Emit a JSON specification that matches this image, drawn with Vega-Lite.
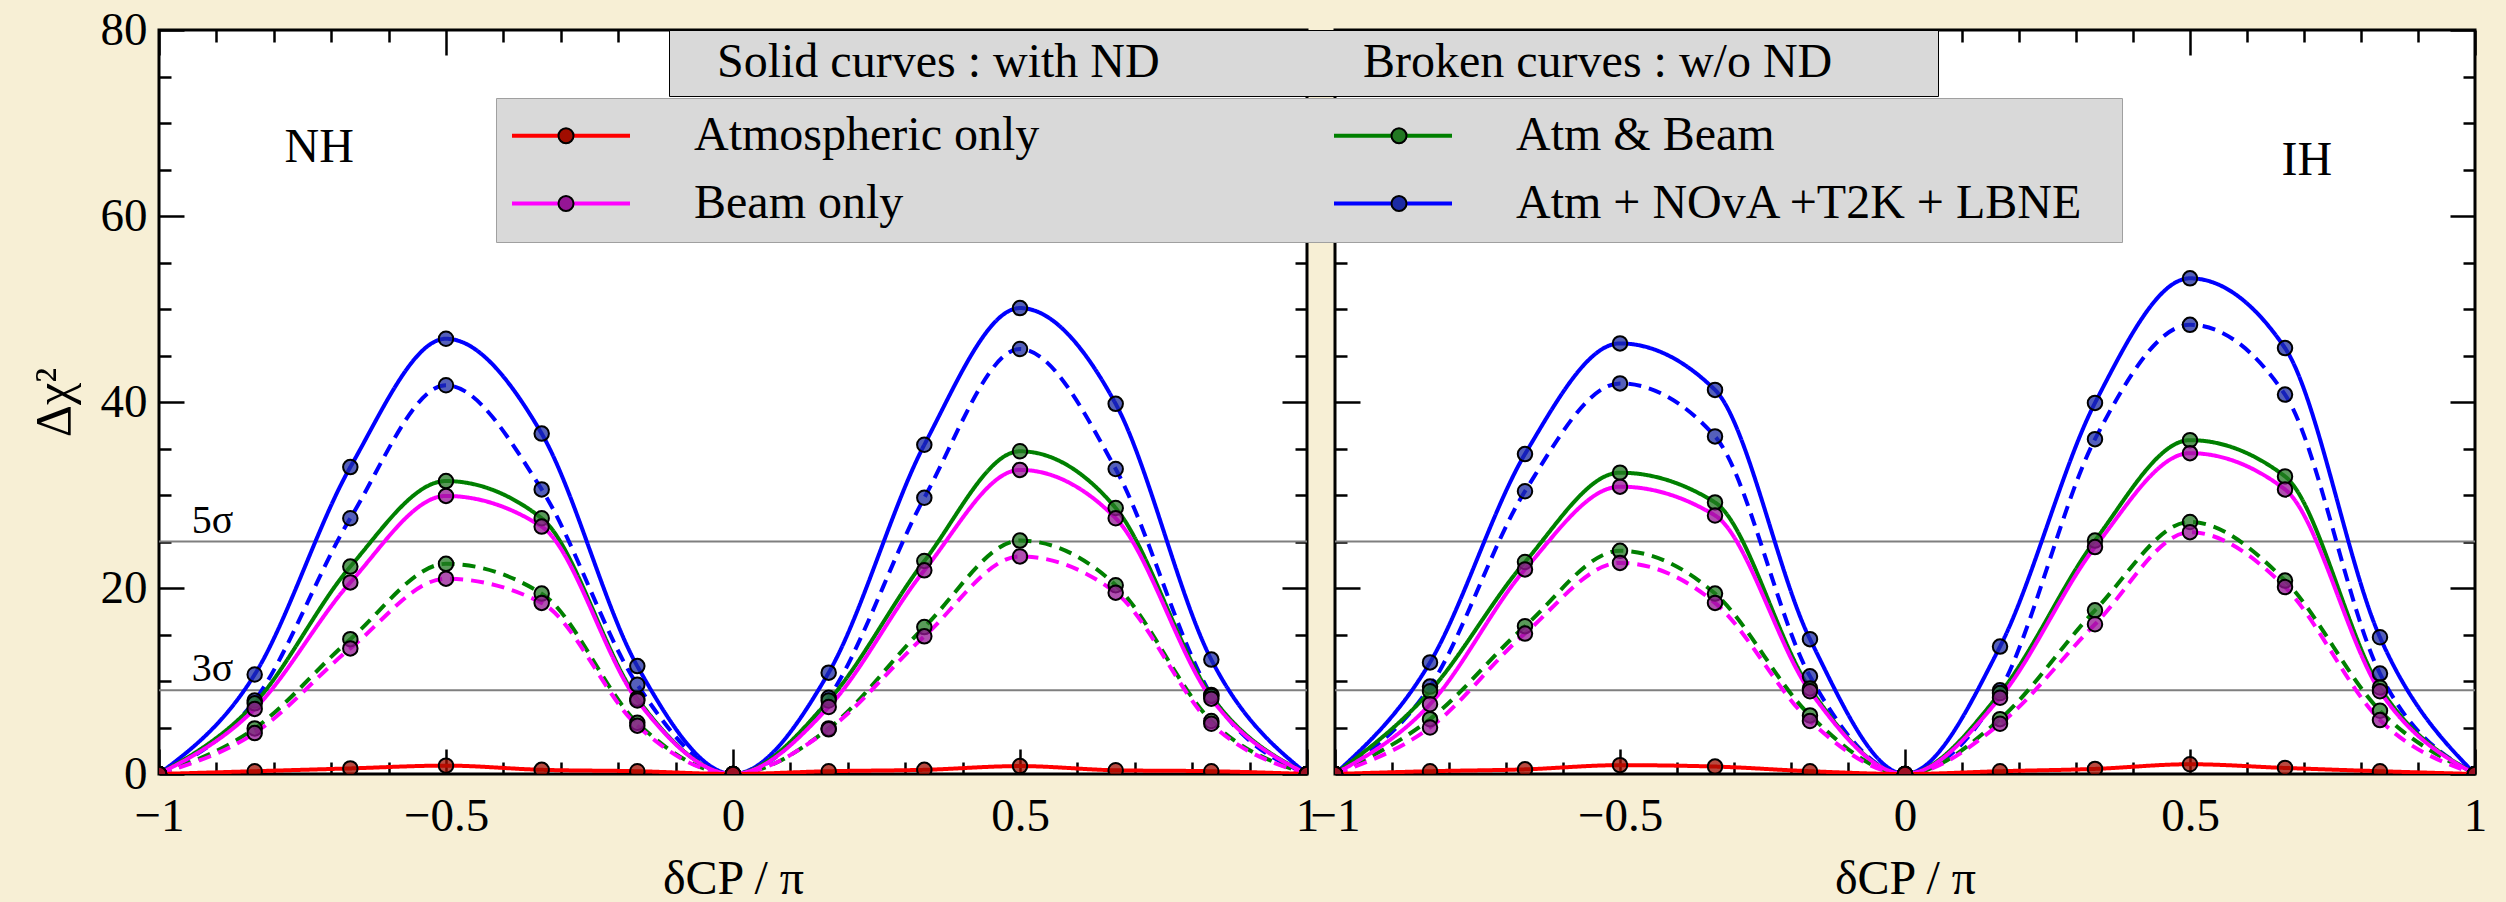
{
"$schema": "https://vega.github.io/schema/vega-lite/v6.json",
"background": "#f7efd5",
"padding": {"left": 27, "top": 4, "right": 20, "bottom": 0},
"bounds": "flush",
"spacing": 28,
"datasets": {
"sigma": [{"level": 25, "label": "5σ"}, {"level": 9, "label": "3σ"}],
"curves": [
{"panel":"NH","nd":"w/o ND","series":"Atm + NOvA +T2K + LBNE","x":-1,"chi2":0},
{"panel":"NH","nd":"w/o ND","series":"Atm + NOvA +T2K + LBNE","x":-0.8333,"chi2":7.9},
{"panel":"NH","nd":"w/o ND","series":"Atm + NOvA +T2K + LBNE","x":-0.6667,"chi2":27.5},
{"panel":"NH","nd":"w/o ND","series":"Atm + NOvA +T2K + LBNE","x":-0.5,"chi2":41.8},
{"panel":"NH","nd":"w/o ND","series":"Atm + NOvA +T2K + LBNE","x":-0.3333,"chi2":30.6},
{"panel":"NH","nd":"w/o ND","series":"Atm + NOvA +T2K + LBNE","x":-0.1667,"chi2":9.6},
{"panel":"NH","nd":"w/o ND","series":"Atm + NOvA +T2K + LBNE","x":0,"chi2":0},
{"panel":"NH","nd":"w/o ND","series":"Atm + NOvA +T2K + LBNE","x":0.1667,"chi2":8.2},
{"panel":"NH","nd":"w/o ND","series":"Atm + NOvA +T2K + LBNE","x":0.3333,"chi2":29.7},
{"panel":"NH","nd":"w/o ND","series":"Atm + NOvA +T2K + LBNE","x":0.5,"chi2":45.7},
{"panel":"NH","nd":"w/o ND","series":"Atm + NOvA +T2K + LBNE","x":0.6667,"chi2":32.8},
{"panel":"NH","nd":"w/o ND","series":"Atm + NOvA +T2K + LBNE","x":0.8333,"chi2":8.5},
{"panel":"NH","nd":"w/o ND","series":"Atm + NOvA +T2K + LBNE","x":1,"chi2":0},
{"panel":"NH","nd":"with ND","series":"Atm + NOvA +T2K + LBNE","x":-1,"chi2":0},
{"panel":"NH","nd":"with ND","series":"Atm + NOvA +T2K + LBNE","x":-0.8333,"chi2":10.7},
{"panel":"NH","nd":"with ND","series":"Atm + NOvA +T2K + LBNE","x":-0.6667,"chi2":33.0},
{"panel":"NH","nd":"with ND","series":"Atm + NOvA +T2K + LBNE","x":-0.5,"chi2":46.8},
{"panel":"NH","nd":"with ND","series":"Atm + NOvA +T2K + LBNE","x":-0.3333,"chi2":36.6},
{"panel":"NH","nd":"with ND","series":"Atm + NOvA +T2K + LBNE","x":-0.1667,"chi2":11.6},
{"panel":"NH","nd":"with ND","series":"Atm + NOvA +T2K + LBNE","x":0,"chi2":0},
{"panel":"NH","nd":"with ND","series":"Atm + NOvA +T2K + LBNE","x":0.1667,"chi2":10.9},
{"panel":"NH","nd":"with ND","series":"Atm + NOvA +T2K + LBNE","x":0.3333,"chi2":35.4},
{"panel":"NH","nd":"with ND","series":"Atm + NOvA +T2K + LBNE","x":0.5,"chi2":50.1},
{"panel":"NH","nd":"with ND","series":"Atm + NOvA +T2K + LBNE","x":0.6667,"chi2":39.8},
{"panel":"NH","nd":"with ND","series":"Atm + NOvA +T2K + LBNE","x":0.8333,"chi2":12.3},
{"panel":"NH","nd":"with ND","series":"Atm + NOvA +T2K + LBNE","x":1,"chi2":0},
{"panel":"NH","nd":"w/o ND","series":"Atm & Beam","x":-1,"chi2":0},
{"panel":"NH","nd":"w/o ND","series":"Atm & Beam","x":-0.8333,"chi2":4.9},
{"panel":"NH","nd":"w/o ND","series":"Atm & Beam","x":-0.6667,"chi2":14.5},
{"panel":"NH","nd":"w/o ND","series":"Atm & Beam","x":-0.5,"chi2":22.6},
{"panel":"NH","nd":"w/o ND","series":"Atm & Beam","x":-0.3333,"chi2":19.4},
{"panel":"NH","nd":"w/o ND","series":"Atm & Beam","x":-0.1667,"chi2":5.5},
{"panel":"NH","nd":"w/o ND","series":"Atm & Beam","x":0,"chi2":0},
{"panel":"NH","nd":"w/o ND","series":"Atm & Beam","x":0.1667,"chi2":4.9},
{"panel":"NH","nd":"w/o ND","series":"Atm & Beam","x":0.3333,"chi2":15.8},
{"panel":"NH","nd":"w/o ND","series":"Atm & Beam","x":0.5,"chi2":25.1},
{"panel":"NH","nd":"w/o ND","series":"Atm & Beam","x":0.6667,"chi2":20.3},
{"panel":"NH","nd":"w/o ND","series":"Atm & Beam","x":0.8333,"chi2":5.7},
{"panel":"NH","nd":"w/o ND","series":"Atm & Beam","x":1,"chi2":0},
{"panel":"NH","nd":"with ND","series":"Atm & Beam","x":-1,"chi2":0},
{"panel":"NH","nd":"with ND","series":"Atm & Beam","x":-0.8333,"chi2":7.6},
{"panel":"NH","nd":"with ND","series":"Atm & Beam","x":-0.6667,"chi2":22.3},
{"panel":"NH","nd":"with ND","series":"Atm & Beam","x":-0.5,"chi2":31.5},
{"panel":"NH","nd":"with ND","series":"Atm & Beam","x":-0.3333,"chi2":27.5},
{"panel":"NH","nd":"with ND","series":"Atm & Beam","x":-0.1667,"chi2":8.1},
{"panel":"NH","nd":"with ND","series":"Atm & Beam","x":0,"chi2":0},
{"panel":"NH","nd":"with ND","series":"Atm & Beam","x":0.1667,"chi2":7.9},
{"panel":"NH","nd":"with ND","series":"Atm & Beam","x":0.3333,"chi2":22.9},
{"panel":"NH","nd":"with ND","series":"Atm & Beam","x":0.5,"chi2":34.7},
{"panel":"NH","nd":"with ND","series":"Atm & Beam","x":0.6667,"chi2":28.6},
{"panel":"NH","nd":"with ND","series":"Atm & Beam","x":0.8333,"chi2":8.4},
{"panel":"NH","nd":"with ND","series":"Atm & Beam","x":1,"chi2":0},
{"panel":"NH","nd":"w/o ND","series":"Beam only","x":-1,"chi2":0},
{"panel":"NH","nd":"w/o ND","series":"Beam only","x":-0.8333,"chi2":4.4},
{"panel":"NH","nd":"w/o ND","series":"Beam only","x":-0.6667,"chi2":13.5},
{"panel":"NH","nd":"w/o ND","series":"Beam only","x":-0.5,"chi2":21.0},
{"panel":"NH","nd":"w/o ND","series":"Beam only","x":-0.3333,"chi2":18.4},
{"panel":"NH","nd":"w/o ND","series":"Beam only","x":-0.1667,"chi2":5.2},
{"panel":"NH","nd":"w/o ND","series":"Beam only","x":0,"chi2":0},
{"panel":"NH","nd":"w/o ND","series":"Beam only","x":0.1667,"chi2":4.8},
{"panel":"NH","nd":"w/o ND","series":"Beam only","x":0.3333,"chi2":14.8},
{"panel":"NH","nd":"w/o ND","series":"Beam only","x":0.5,"chi2":23.4},
{"panel":"NH","nd":"w/o ND","series":"Beam only","x":0.6667,"chi2":19.5},
{"panel":"NH","nd":"w/o ND","series":"Beam only","x":0.8333,"chi2":5.4},
{"panel":"NH","nd":"w/o ND","series":"Beam only","x":1,"chi2":0},
{"panel":"NH","nd":"with ND","series":"Beam only","x":-1,"chi2":0},
{"panel":"NH","nd":"with ND","series":"Beam only","x":-0.8333,"chi2":7.0},
{"panel":"NH","nd":"with ND","series":"Beam only","x":-0.6667,"chi2":20.6},
{"panel":"NH","nd":"with ND","series":"Beam only","x":-0.5,"chi2":29.9},
{"panel":"NH","nd":"with ND","series":"Beam only","x":-0.3333,"chi2":26.6},
{"panel":"NH","nd":"with ND","series":"Beam only","x":-0.1667,"chi2":7.9},
{"panel":"NH","nd":"with ND","series":"Beam only","x":0,"chi2":0},
{"panel":"NH","nd":"with ND","series":"Beam only","x":0.1667,"chi2":7.2},
{"panel":"NH","nd":"with ND","series":"Beam only","x":0.3333,"chi2":21.9},
{"panel":"NH","nd":"with ND","series":"Beam only","x":0.5,"chi2":32.7},
{"panel":"NH","nd":"with ND","series":"Beam only","x":0.6667,"chi2":27.5},
{"panel":"NH","nd":"with ND","series":"Beam only","x":0.8333,"chi2":8.1},
{"panel":"NH","nd":"with ND","series":"Beam only","x":1,"chi2":0},
{"panel":"NH","nd":"with ND","series":"Atmospheric only","x":-1,"chi2":0},
{"panel":"NH","nd":"with ND","series":"Atmospheric only","x":-0.8333,"chi2":0.3},
{"panel":"NH","nd":"with ND","series":"Atmospheric only","x":-0.6667,"chi2":0.6},
{"panel":"NH","nd":"with ND","series":"Atmospheric only","x":-0.5,"chi2":0.9},
{"panel":"NH","nd":"with ND","series":"Atmospheric only","x":-0.3333,"chi2":0.45},
{"panel":"NH","nd":"with ND","series":"Atmospheric only","x":-0.1667,"chi2":0.3},
{"panel":"NH","nd":"with ND","series":"Atmospheric only","x":0,"chi2":0},
{"panel":"NH","nd":"with ND","series":"Atmospheric only","x":0.1667,"chi2":0.3},
{"panel":"NH","nd":"with ND","series":"Atmospheric only","x":0.3333,"chi2":0.45},
{"panel":"NH","nd":"with ND","series":"Atmospheric only","x":0.5,"chi2":0.85},
{"panel":"NH","nd":"with ND","series":"Atmospheric only","x":0.6667,"chi2":0.4},
{"panel":"NH","nd":"with ND","series":"Atmospheric only","x":0.8333,"chi2":0.3},
{"panel":"NH","nd":"with ND","series":"Atmospheric only","x":1,"chi2":0},
{"panel":"IH","nd":"w/o ND","series":"Atm + NOvA +T2K + LBNE","x":-1,"chi2":0},
{"panel":"IH","nd":"w/o ND","series":"Atm + NOvA +T2K + LBNE","x":-0.8333,"chi2":9.4},
{"panel":"IH","nd":"w/o ND","series":"Atm + NOvA +T2K + LBNE","x":-0.6667,"chi2":30.4},
{"panel":"IH","nd":"w/o ND","series":"Atm + NOvA +T2K + LBNE","x":-0.5,"chi2":42.0},
{"panel":"IH","nd":"w/o ND","series":"Atm + NOvA +T2K + LBNE","x":-0.3333,"chi2":36.3},
{"panel":"IH","nd":"w/o ND","series":"Atm + NOvA +T2K + LBNE","x":-0.1667,"chi2":10.5},
{"panel":"IH","nd":"w/o ND","series":"Atm + NOvA +T2K + LBNE","x":0,"chi2":0},
{"panel":"IH","nd":"w/o ND","series":"Atm + NOvA +T2K + LBNE","x":0.1667,"chi2":9.0},
{"panel":"IH","nd":"w/o ND","series":"Atm + NOvA +T2K + LBNE","x":0.3333,"chi2":36.0},
{"panel":"IH","nd":"w/o ND","series":"Atm + NOvA +T2K + LBNE","x":0.5,"chi2":48.3},
{"panel":"IH","nd":"w/o ND","series":"Atm + NOvA +T2K + LBNE","x":0.6667,"chi2":40.8},
{"panel":"IH","nd":"w/o ND","series":"Atm + NOvA +T2K + LBNE","x":0.8333,"chi2":10.8},
{"panel":"IH","nd":"w/o ND","series":"Atm + NOvA +T2K + LBNE","x":1,"chi2":0},
{"panel":"IH","nd":"with ND","series":"Atm + NOvA +T2K + LBNE","x":-1,"chi2":0},
{"panel":"IH","nd":"with ND","series":"Atm + NOvA +T2K + LBNE","x":-0.8333,"chi2":12.0},
{"panel":"IH","nd":"with ND","series":"Atm + NOvA +T2K + LBNE","x":-0.6667,"chi2":34.4},
{"panel":"IH","nd":"with ND","series":"Atm + NOvA +T2K + LBNE","x":-0.5,"chi2":46.3},
{"panel":"IH","nd":"with ND","series":"Atm + NOvA +T2K + LBNE","x":-0.3333,"chi2":41.3},
{"panel":"IH","nd":"with ND","series":"Atm + NOvA +T2K + LBNE","x":-0.1667,"chi2":14.5},
{"panel":"IH","nd":"with ND","series":"Atm + NOvA +T2K + LBNE","x":0,"chi2":0},
{"panel":"IH","nd":"with ND","series":"Atm + NOvA +T2K + LBNE","x":0.1667,"chi2":13.7},
{"panel":"IH","nd":"with ND","series":"Atm + NOvA +T2K + LBNE","x":0.3333,"chi2":39.9},
{"panel":"IH","nd":"with ND","series":"Atm + NOvA +T2K + LBNE","x":0.5,"chi2":53.3},
{"panel":"IH","nd":"with ND","series":"Atm + NOvA +T2K + LBNE","x":0.6667,"chi2":45.8},
{"panel":"IH","nd":"with ND","series":"Atm + NOvA +T2K + LBNE","x":0.8333,"chi2":14.7},
{"panel":"IH","nd":"with ND","series":"Atm + NOvA +T2K + LBNE","x":1,"chi2":0},
{"panel":"IH","nd":"w/o ND","series":"Atm & Beam","x":-1,"chi2":0},
{"panel":"IH","nd":"w/o ND","series":"Atm & Beam","x":-0.8333,"chi2":5.9},
{"panel":"IH","nd":"w/o ND","series":"Atm & Beam","x":-0.6667,"chi2":15.9},
{"panel":"IH","nd":"w/o ND","series":"Atm & Beam","x":-0.5,"chi2":24.0},
{"panel":"IH","nd":"w/o ND","series":"Atm & Beam","x":-0.3333,"chi2":19.4},
{"panel":"IH","nd":"w/o ND","series":"Atm & Beam","x":-0.1667,"chi2":6.3},
{"panel":"IH","nd":"w/o ND","series":"Atm & Beam","x":0,"chi2":0},
{"panel":"IH","nd":"w/o ND","series":"Atm & Beam","x":0.1667,"chi2":5.9},
{"panel":"IH","nd":"w/o ND","series":"Atm & Beam","x":0.3333,"chi2":17.6},
{"panel":"IH","nd":"w/o ND","series":"Atm & Beam","x":0.5,"chi2":27.1},
{"panel":"IH","nd":"w/o ND","series":"Atm & Beam","x":0.6667,"chi2":20.8},
{"panel":"IH","nd":"w/o ND","series":"Atm & Beam","x":0.8333,"chi2":6.8},
{"panel":"IH","nd":"w/o ND","series":"Atm & Beam","x":1,"chi2":0},
{"panel":"IH","nd":"with ND","series":"Atm & Beam","x":-1,"chi2":0},
{"panel":"IH","nd":"with ND","series":"Atm & Beam","x":-0.8333,"chi2":8.9},
{"panel":"IH","nd":"with ND","series":"Atm & Beam","x":-0.6667,"chi2":22.8},
{"panel":"IH","nd":"with ND","series":"Atm & Beam","x":-0.5,"chi2":32.4},
{"panel":"IH","nd":"with ND","series":"Atm & Beam","x":-0.3333,"chi2":29.2},
{"panel":"IH","nd":"with ND","series":"Atm & Beam","x":-0.1667,"chi2":9.2},
{"panel":"IH","nd":"with ND","series":"Atm & Beam","x":0,"chi2":0},
{"panel":"IH","nd":"with ND","series":"Atm & Beam","x":0.1667,"chi2":8.7},
{"panel":"IH","nd":"with ND","series":"Atm & Beam","x":0.3333,"chi2":25.1},
{"panel":"IH","nd":"with ND","series":"Atm & Beam","x":0.5,"chi2":35.9},
{"panel":"IH","nd":"with ND","series":"Atm & Beam","x":0.6667,"chi2":32.0},
{"panel":"IH","nd":"with ND","series":"Atm & Beam","x":0.8333,"chi2":9.3},
{"panel":"IH","nd":"with ND","series":"Atm & Beam","x":1,"chi2":0},
{"panel":"IH","nd":"w/o ND","series":"Beam only","x":-1,"chi2":0},
{"panel":"IH","nd":"w/o ND","series":"Beam only","x":-0.8333,"chi2":5.0},
{"panel":"IH","nd":"w/o ND","series":"Beam only","x":-0.6667,"chi2":15.1},
{"panel":"IH","nd":"w/o ND","series":"Beam only","x":-0.5,"chi2":22.7},
{"panel":"IH","nd":"w/o ND","series":"Beam only","x":-0.3333,"chi2":18.4},
{"panel":"IH","nd":"w/o ND","series":"Beam only","x":-0.1667,"chi2":5.7},
{"panel":"IH","nd":"w/o ND","series":"Beam only","x":0,"chi2":0},
{"panel":"IH","nd":"w/o ND","series":"Beam only","x":0.1667,"chi2":5.4},
{"panel":"IH","nd":"w/o ND","series":"Beam only","x":0.3333,"chi2":16.1},
{"panel":"IH","nd":"w/o ND","series":"Beam only","x":0.5,"chi2":26.0},
{"panel":"IH","nd":"w/o ND","series":"Beam only","x":0.6667,"chi2":20.1},
{"panel":"IH","nd":"w/o ND","series":"Beam only","x":0.8333,"chi2":5.8},
{"panel":"IH","nd":"w/o ND","series":"Beam only","x":1,"chi2":0},
{"panel":"IH","nd":"with ND","series":"Beam only","x":-1,"chi2":0},
{"panel":"IH","nd":"with ND","series":"Beam only","x":-0.8333,"chi2":7.5},
{"panel":"IH","nd":"with ND","series":"Beam only","x":-0.6667,"chi2":22.0},
{"panel":"IH","nd":"with ND","series":"Beam only","x":-0.5,"chi2":30.9},
{"panel":"IH","nd":"with ND","series":"Beam only","x":-0.3333,"chi2":27.8},
{"panel":"IH","nd":"with ND","series":"Beam only","x":-0.1667,"chi2":8.9},
{"panel":"IH","nd":"with ND","series":"Beam only","x":0,"chi2":0},
{"panel":"IH","nd":"with ND","series":"Beam only","x":0.1667,"chi2":8.2},
{"panel":"IH","nd":"with ND","series":"Beam only","x":0.3333,"chi2":24.4},
{"panel":"IH","nd":"with ND","series":"Beam only","x":0.5,"chi2":34.5},
{"panel":"IH","nd":"with ND","series":"Beam only","x":0.6667,"chi2":30.6},
{"panel":"IH","nd":"with ND","series":"Beam only","x":0.8333,"chi2":8.9},
{"panel":"IH","nd":"with ND","series":"Beam only","x":1,"chi2":0},
{"panel":"IH","nd":"with ND","series":"Atmospheric only","x":-1,"chi2":0},
{"panel":"IH","nd":"with ND","series":"Atmospheric only","x":-0.8333,"chi2":0.3},
{"panel":"IH","nd":"with ND","series":"Atmospheric only","x":-0.6667,"chi2":0.5},
{"panel":"IH","nd":"with ND","series":"Atmospheric only","x":-0.5,"chi2":0.95},
{"panel":"IH","nd":"with ND","series":"Atmospheric only","x":-0.3333,"chi2":0.8},
{"panel":"IH","nd":"with ND","series":"Atmospheric only","x":-0.1667,"chi2":0.3},
{"panel":"IH","nd":"with ND","series":"Atmospheric only","x":0,"chi2":0},
{"panel":"IH","nd":"with ND","series":"Atmospheric only","x":0.1667,"chi2":0.3},
{"panel":"IH","nd":"with ND","series":"Atmospheric only","x":0.3333,"chi2":0.55},
{"panel":"IH","nd":"with ND","series":"Atmospheric only","x":0.5,"chi2":1.05},
{"panel":"IH","nd":"with ND","series":"Atmospheric only","x":0.6667,"chi2":0.65},
{"panel":"IH","nd":"with ND","series":"Atmospheric only","x":0.8333,"chi2":0.3},
{"panel":"IH","nd":"with ND","series":"Atmospheric only","x":1,"chi2":0}
]
},
"hconcat": [
{
"width": 1148, "height": 744,
"layer": [
{"data": {"name": "sigma"}, "mark": {"type": "rule", "color": "#7f7f7f", "strokeWidth": 2},
 "encoding": {"y": {"field": "level", "type": "quantitative", "scale": {"domain": [0, 80], "nice": false}, "axis": null}}},
{"data": {"name": "curves"}, "transform": [{"filter": "datum.panel === 'NH'"}],
 "mark": {"type": "line", "interpolate": "monotone", "strokeWidth": 4, "clip": true},
 "encoding": {
  "x": {"field": "x", "type": "quantitative", "scale": {"domain": [-1, 1], "nice": false, "zero": false},
   "axis": {"orient": "bottom", "values": [-1,-0.9,-0.8,-0.7,-0.6,-0.5,-0.4,-0.3,-0.2,-0.1,0,0.1,0.2,0.3,0.4,0.5,0.6,0.7,0.8,0.9,1], "format": "~g",
    "tickSize": {"condition": {"test": "abs(datum.value * 2 - round(datum.value * 2)) < 0.001", "value": -25}, "value": -12},
    "labelExpr": "abs(datum.value * 2 - round(datum.value * 2)) < 0.001 ? datum.label : ''",
    "labelFontSize": 47, "labelPadding": 44, "labelFlush": false, "labelOverlap": false,
    "title": "δCP / π", "titleFontSize": 48, "titleY": 119, "titleBaseline": "alphabetic"}},
  "y": {"field": "chi2", "type": "quantitative", "scale": {"domain": [0, 80], "nice": false},
   "axis": {"orient": "left", "values": [0,5,10,15,20,25,30,35,40,45,50,55,60,65,70,75,80],
    "tickSize": {"condition": {"test": "datum.value % 20 === 0", "value": -25}, "value": -12},
    "labelExpr": "datum.value % 20 === 0 ? datum.label : ''",
    "labelFontSize": 47, "labelPadding": 37, "labelOverlap": false,
    "title": "Δχ²", "titleFontSize": 50, "titleX": -90, "titleBaseline": "alphabetic"}},
  "stroke": {"field": "series", "type": "nominal",
   "scale": {"domain": ["Atmospheric only", "Beam only", "Atm & Beam", "Atm + NOvA +T2K + LBNE"], "range": ["#ff0000", "#ff00ff", "#008000", "#0000ff"]},
   "legend": {"orient": "none", "legendX": 337, "legendY": 68, "columns": 2, "title": null,
    "symbolType": "stroke", "symbolSize": 13924, "symbolStrokeWidth": 4, "clipHeight": 47,
    "labelExpr": "datum.label == 'Atm + NOvA +T2K + LBNE' ? datum.label + '\u00a0\u00a0\u200b' : datum.label",
    "labelFontSize": 48, "labelOffset": 62, "columnPadding": 292, "rowPadding": 19,
    "padding": 14, "fillColor": "#d9d9d9", "strokeColor": "#a0a0a0", "zindex": 1}},
  "strokeDash": {"field": "nd", "type": "nominal",
   "scale": {"domain": ["with ND", "w/o ND"], "range": [[1, 0], [13, 8]]},
   "legend": {"orient": "none", "legendX": 510, "legendY": 0, "columns": 2, "title": null,
    "symbolType": "stroke", "symbolSize": 900, "symbolOpacity": 0,
    "labelExpr": "datum.label == 'with ND' ? 'Solid curves : with ND' : 'Broken curves : w/o ND\u00a0\u00a0\u00a0\u00a0\u00a0\u00a0\u00a0\u00a0\u200b'",
    "labelFontSize": 48, "labelOffset": -9, "columnPadding": 164,
    "padding": 9, "fillColor": "#d9d9d9", "strokeColor": "black", "zindex": 0}}
 }},
{"data": {"name": "curves"}, "transform": [{"filter": "datum.panel === 'NH'"}],
 "mark": {"type": "point", "shape": "circle", "filled": true, "size": 210, "stroke": "black", "strokeWidth": 2, "fillOpacity": 0.75, "opacity": 1, "clip": true},
 "encoding": {
  "x": {"field": "x", "type": "quantitative",
   "axis": {"orient": "top", "values": [-1,-0.9,-0.8,-0.7,-0.6,-0.5,-0.4,-0.3,-0.2,-0.1,0,0.1,0.2,0.3,0.4,0.5,0.6,0.7,0.8,0.9,1],
    "tickSize": {"condition": {"test": "abs(datum.value * 2 - round(datum.value * 2)) < 0.001", "value": -25}, "value": -12},
    "labels": false, "title": null}},
  "y": {"field": "chi2", "type": "quantitative",
   "axis": {"orient": "right", "values": [0,5,10,15,20,25,30,35,40,45,50,55,60,65,70,75,80],
    "tickSize": {"condition": {"test": "datum.value % 20 === 0", "value": -25}, "value": -12},
    "labels": false, "title": null}},
  "fill": {"field": "series", "type": "nominal",
   "scale": {"domain": ["Atm + NOvA +T2K + LBNE", "Atm & Beam", "Beam only", "Atmospheric only"], "range": ["#1c2ba4", "#237823", "#951595", "#a10d00"]},
   "legend": {"orient": "none", "legendX": 369, "legendY": 68, "columns": 2, "title": null,
    "values": ["Atmospheric only", "Beam only", "Atm & Beam", "Atm + NOvA +T2K + LBNE"],
    "symbolType": "circle", "symbolSize": 227, "symbolStrokeColor": "black", "symbolStrokeWidth": 2, "symbolOpacity": 0.85, "clipHeight": 47,
    "labelExpr": "''",
    "labelFontSize": 48, "labelOffset": 493, "columnPadding": 292, "rowPadding": 19,
    "padding": 14, "zindex": 2}}
 }},
{"data": {"name": "sigma"},
 "mark": {"type": "text", "align": "left", "baseline": "alphabetic", "dy": -9, "fontSize": 40, "color": "black"},
 "encoding": {"x": {"datum": -0.943, "type": "quantitative", "axis": null}, "y": {"field": "level", "type": "quantitative", "axis": null}, "text": {"field": "label"}}},
{"data": {"values": [{}]},
 "mark": {"type": "text", "text": "NH", "align": "center", "baseline": "alphabetic", "fontSize": 48, "color": "black"},
 "encoding": {"x": {"datum": -0.721, "type": "quantitative", "axis": null}, "y": {"datum": 65.8, "type": "quantitative", "axis": null}}}
],
"resolve": {"axis": {"x": "independent", "y": "independent"}}
},
{
"width": 1140, "height": 744,
"layer": [
{"data": {"name": "sigma"}, "mark": {"type": "rule", "color": "#7f7f7f", "strokeWidth": 2},
 "encoding": {"y": {"field": "level", "type": "quantitative", "scale": {"domain": [0, 80], "nice": false}, "axis": null}}},
{"data": {"name": "curves"}, "transform": [{"filter": "datum.panel === 'IH'"}],
 "mark": {"type": "line", "interpolate": "monotone", "strokeWidth": 4, "clip": true},
 "encoding": {
  "x": {"field": "x", "type": "quantitative", "scale": {"domain": [-1, 1], "nice": false, "zero": false},
   "axis": {"orient": "bottom", "values": [-1,-0.9,-0.8,-0.7,-0.6,-0.5,-0.4,-0.3,-0.2,-0.1,0,0.1,0.2,0.3,0.4,0.5,0.6,0.7,0.8,0.9,1], "format": "~g",
    "tickSize": {"condition": {"test": "abs(datum.value * 2 - round(datum.value * 2)) < 0.001", "value": -25}, "value": -12},
    "labelExpr": "abs(datum.value * 2 - round(datum.value * 2)) < 0.001 ? datum.label : ''",
    "labelFontSize": 47, "labelPadding": 44, "labelFlush": false, "labelOverlap": false,
    "title": "δCP / π", "titleFontSize": 48, "titleY": 119, "titleBaseline": "alphabetic"}},
  "y": {"field": "chi2", "type": "quantitative", "scale": {"domain": [0, 80], "nice": false},
   "axis": {"orient": "left", "values": [0,5,10,15,20,25,30,35,40,45,50,55,60,65,70,75,80],
    "tickSize": {"condition": {"test": "datum.value % 20 === 0", "value": -25}, "value": -12},
    "labels": false, "title": null}},
  "stroke": {"field": "series", "type": "nominal"},
  "strokeDash": {"field": "nd", "type": "nominal"}
 }},
{"data": {"name": "curves"}, "transform": [{"filter": "datum.panel === 'IH'"}],
 "mark": {"type": "point", "shape": "circle", "filled": true, "size": 210, "stroke": "black", "strokeWidth": 2, "fillOpacity": 0.75, "opacity": 1, "clip": true},
 "encoding": {
  "x": {"field": "x", "type": "quantitative",
   "axis": {"orient": "top", "values": [-1,-0.9,-0.8,-0.7,-0.6,-0.5,-0.4,-0.3,-0.2,-0.1,0,0.1,0.2,0.3,0.4,0.5,0.6,0.7,0.8,0.9,1],
    "tickSize": {"condition": {"test": "abs(datum.value * 2 - round(datum.value * 2)) < 0.001", "value": -25}, "value": -12},
    "labels": false, "title": null}},
  "y": {"field": "chi2", "type": "quantitative",
   "axis": {"orient": "right", "values": [0,5,10,15,20,25,30,35,40,45,50,55,60,65,70,75,80],
    "tickSize": {"condition": {"test": "datum.value % 20 === 0", "value": -25}, "value": -12},
    "labels": false, "title": null}},
  "fill": {"field": "series", "type": "nominal"}
 }},
{"data": {"values": [{}]},
 "mark": {"type": "text", "text": "IH", "align": "center", "baseline": "alphabetic", "fontSize": 48, "color": "black"},
 "encoding": {"x": {"datum": 0.705, "type": "quantitative", "axis": null}, "y": {"datum": 64.4, "type": "quantitative", "axis": null}}}
],
"resolve": {"axis": {"x": "independent", "y": "independent"}}
}
],
"resolve": {"scale": {"x": "independent", "y": "independent", "stroke": "shared", "fill": "shared", "strokeDash": "shared"}, "legend": {"stroke": "shared", "fill": "shared", "strokeDash": "shared"}},
"config": {
 "font": "Liberation Serif",
 "view": {"stroke": "black", "strokeWidth": 3, "fill": "white"},
 "axis": {"grid": false, "domain": false, "tickColor": "black", "tickWidth": 2.5, "labelColor": "black", "titleColor": "black", "titleFontWeight": "normal", "labelFont": "Liberation Serif", "titleFont": "Liberation Serif"},
 "legend": {"labelFont": "Liberation Serif", "labelColor": "black", "labelLimit": 2000},
 "text": {"font": "Liberation Serif"}
}
}
